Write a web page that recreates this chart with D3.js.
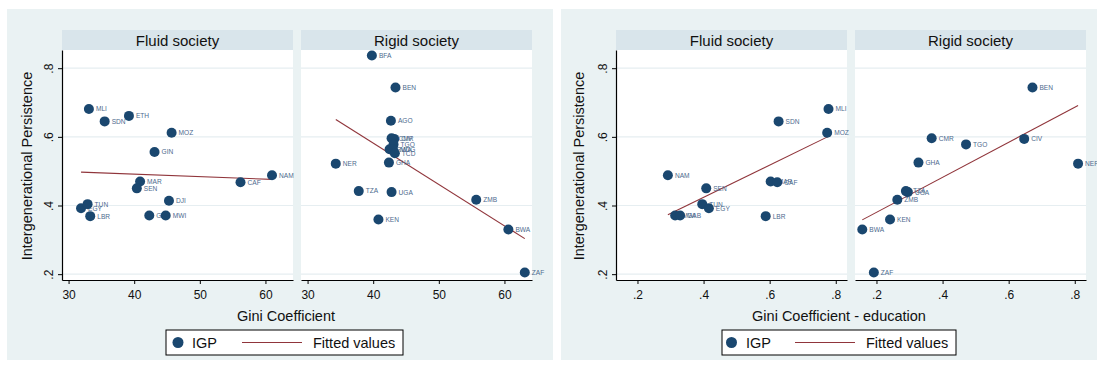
<!DOCTYPE html>
<html><head><meta charset="utf-8">
<script src="https://cdn.jsdelivr.net/npm/d3@7"></script>
<style>
body{margin:0;background:#fff;}
svg{display:block;}
text{font-family:"Liberation Sans", Arial, Helvetica, sans-serif;}
</style>
</head><body>
<svg id="chart" width="1097" height="368"></svg>
<script>
// ---- Income Gini, fluid societies ----
const giniFluidCodes = ["MLI","SDN","ETH","MOZ","GIN","MAR","SEN","DJI","EGY","TUN","LBR","GAB","MWI","CAF","NAM"];
const giniFluidX     = [33.1, 35.5, 39.2, 45.7, 43.1, 40.9, 40.4, 45.3, 31.9, 32.9, 33.3, 42.3, 44.8, 56.2, 61.0];
const giniFluidIGP   = [0.681,0.645,0.661,0.612,0.556,0.470,0.450,0.414,0.392,0.404,0.369,0.371,0.371,0.468,0.488];

// ---- Income Gini, rigid societies ----
const giniRigidCodes = ["BFA","BEN","AGO","CIV","CMR","TGO","RWA","MDG","TCD","GHA","NER","TZA","UGA","ZMB","KEN","BWA","ZAF"];
const giniRigidX     = [39.8, 43.4, 42.7, 43.2, 42.8, 43.1, 42.5, 43.0, 43.3, 42.4, 34.3, 37.8, 42.8, 55.7, 40.8, 60.6, 63.1];
const giniRigidIGP   = [0.837,0.744,0.647,0.594,0.596,0.578,0.564,0.564,0.552,0.525,0.522,0.442,0.439,0.417,0.359,0.330,0.205];

// ---- Education Gini, fluid societies ----
const eduFluidCodes = ["MLI","SDN","MOZ","NAM","SEN","TUN","EGY","LBR","MWI","GAB","MAR","CAF"];
const eduFluidX     = [0.778,0.627,0.774,0.292,0.408,0.396,0.416,0.588,0.314,0.329,0.603,0.623];
const eduFluidIGP   = [0.681,0.645,0.612,0.488,0.450,0.404,0.392,0.369,0.371,0.371,0.470,0.468];

// ---- Education Gini, rigid societies ----
const eduRigidCodes = ["BEN","CMR","TGO","CIV","GHA","NER","UGA","TZA","ZMB","KEN","BWA","ZAF"];
const eduRigidX     = [0.672,0.367,0.471,0.647,0.327,0.810,0.295,0.289,0.263,0.241,0.157,0.192];
const eduRigidIGP   = [0.744,0.596,0.578,0.594,0.525,0.522,0.439,0.442,0.417,0.359,0.330,0.205];

// ---- Axis ticks and text ----
const yTicks = [0.2, 0.4, 0.6, 0.8];
const giniTicks = [30, 40, 50, 60];
const eduTicks = [0.2, 0.4, 0.6, 0.8];
const panelTitles = ["Fluid society", "Rigid society"];
const yTitle = "Intergenerational Persistence";
const legendLabels = ["IGP", "Fitted values"];

const NAVY = "#1a476f", MAROON = "#90353b", LABEL = "#4d6a8e";
const BG = "#eaf2f3", STRIP = "#d9e5eb", GRID = "#e6eef1";

const svg = d3.select("#chart");
const fmtDot = d => d3.format(".1f")(d).replace(/^0/, "");

function ols(xs, ys) {
  const mx = d3.mean(xs), my = d3.mean(ys);
  let sxy = 0, sxx = 0;
  xs.forEach((x, i) => { sxy += (x - mx) * (ys[i] - my); sxx += (x - mx) * (x - mx); });
  const b = sxy / sxx;
  return x => my + b * (x - mx);
}

function drawGraph(cfg) {
  const g = svg.append("g");
  g.append("rect").attr("x", cfg.bgX).attr("y", 9).attr("width", cfg.bgW).attr("height", 351).attr("fill", BG);

  const y = d3.scaleLinear().domain([0.183, 0.853]).range([280, 50]);

  cfg.panels.forEach((p, pi) => {
    const x0 = cfg.panelX[pi], x1 = x0 + 231;
    const x = d3.scaleLinear().domain(cfg.xDomain).range([x0, x1]);
    const pg = g.append("g");

    // plot region and strip
    pg.append("rect").attr("x", x0).attr("y", 50).attr("width", x1 - x0).attr("height", 230).attr("fill", "#fff");
    pg.append("rect").attr("x", x0).attr("y", 30).attr("width", x1 - x0).attr("height", 20).attr("fill", STRIP);
    pg.append("text").attr("x", (x0 + x1) / 2).attr("y", 45.5).attr("text-anchor", "middle")
      .attr("font-size", 15).attr("fill", "#111").text(panelTitles[pi]);

    // gridlines
    pg.selectAll("line.grid").data(yTicks).join("line").attr("class", "grid")
      .attr("x1", x0).attr("x2", x1).attr("y1", d => y(d)).attr("y2", d => y(d))
      .attr("stroke", GRID).attr("stroke-width", 1.2);

    // x axis
    const xa = pg.append("g").attr("transform", "translate(0,280)")
      .call(d3.axisBottom(x).tickValues(cfg.xTicks).tickSize(4).tickSizeOuter(0).tickFormat(cfg.xFormat));
    xa.select(".domain").attr("stroke", "#000").attr("stroke-width", 1.2);
    xa.selectAll(".tick line").attr("stroke", "#000");
    xa.selectAll(".tick text").attr("font-size", 12).attr("y", 10).attr("fill", "#111").style("font-family", null);

    // y axis on the first panel only
    if (pi === 0) {
      const ya = pg.append("g").attr("transform", `translate(${x0},0)`)
        .call(d3.axisLeft(y).tickValues(yTicks).tickSize(4).tickSizeOuter(0).tickFormat(fmtDot));
      ya.select(".domain").attr("stroke", "#000").attr("stroke-width", 1.2);
      ya.selectAll(".tick line").attr("stroke", "#000");
      ya.selectAll(".tick text").attr("font-size", 12).attr("fill", "#111")
        .attr("x", 0).attr("dy", 0).attr("text-anchor", "middle")
        .attr("transform", "translate(-9,0) rotate(-90)");
      pg.append("text").attr("transform", `translate(${cfg.yTitleX},166) rotate(-90)`)
        .attr("text-anchor", "middle").attr("font-size", 14.5).attr("fill", "#111").text(yTitle);
    }

    // fitted line from OLS over the panel's points
    const fit = ols(p.x, p.igp);
    const [mn, mx] = d3.extent(p.x);
    pg.append("line").attr("x1", x(mn)).attr("x2", x(mx)).attr("y1", y(fit(mn))).attr("y2", y(fit(mx)))
      .attr("stroke", MAROON).attr("stroke-width", 1.1);

    // markers and country labels
    const pts = p.codes.map((c, i) => ({ c, x: p.x[i], v: p.igp[i] }));
    const mk = pg.selectAll("g.pt").data(pts).join("g").attr("class", "pt");
    mk.append("circle").attr("cx", d => x(d.x)).attr("cy", d => y(d.v)).attr("r", 5).attr("fill", NAVY);
    mk.append("text").attr("x", d => x(d.x) + 7).attr("y", d => y(d.v) + 2.4)
      .attr("font-size", 6.6).attr("fill", LABEL).text(d => d.c);
  });

  // x axis title
  g.append("text").attr("x", cfg.titleX).attr("y", 321).attr("text-anchor", "middle")
    .attr("font-size", 14.5).attr("fill", "#111").text(cfg.xTitle);

  // legend
  const L = cfg.legend;
  g.append("rect").attr("x", L.x).attr("y", 330).attr("width", L.w).attr("height", 25)
    .attr("fill", "#fff").attr("stroke", "#000").attr("stroke-width", 1);
  g.append("circle").attr("cx", L.dot).attr("cy", 342.5).attr("r", 5.5).attr("fill", NAVY);
  g.append("text").attr("x", L.t1).attr("y", 347.8).attr("font-size", 14.5).attr("fill", "#111").text(legendLabels[0]);
  g.append("line").attr("x1", L.l1).attr("x2", L.l2).attr("y1", 342.5).attr("y2", 342.5)
    .attr("stroke", MAROON).attr("stroke-width", 1.1);
  g.append("text").attr("x", L.t2).attr("y", 347.8).attr("font-size", 14.5).attr("fill", "#111").text(legendLabels[1]);
}

drawGraph({
  bgX: 7, bgW: 546, panelX: [62, 301], xDomain: [29.0, 64.2], xTicks: giniTicks, xFormat: d3.format("d"),
  yTitleX: 32, titleX: 286, xTitle: "Gini Coefficient",
  legend: { x: 166, w: 237, dot: 178, t1: 192, l1: 242, l2: 302, t2: 313 },
  panels: [
    { codes: giniFluidCodes, x: giniFluidX, igp: giniFluidIGP },
    { codes: giniRigidCodes, x: giniRigidX, igp: giniRigidIGP }
  ]
});

drawGraph({
  bgX: 561, bgW: 536, panelX: [616, 855], xDomain: [0.135, 0.834], xTicks: eduTicks, xFormat: fmtDot,
  yTitleX: 584, titleX: 839, xTitle: "Gini Coefficient - education",
  legend: { x: 722, w: 234, dot: 731.5, t1: 746, l1: 795, l2: 855, t2: 866 },
  panels: [
    { codes: eduFluidCodes, x: eduFluidX, igp: eduFluidIGP },
    { codes: eduRigidCodes, x: eduRigidX, igp: eduRigidIGP }
  ]
});
</script>
</body></html>
